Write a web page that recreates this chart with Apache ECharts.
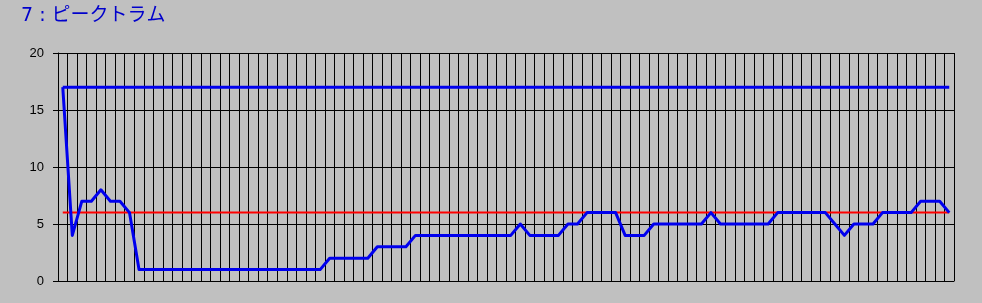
<!DOCTYPE html>
<html>
<head>
<meta charset="utf-8">
<script src="https://cdn.jsdelivr.net/npm/echarts@6/dist/echarts.min.js"></script>
<style>
html,body{margin:0;padding:0;background:#c0c0c0;}
#c{width:982px;height:303px;}
</style>
</head>
<body>
<div id="c"></div>
<script>
var titleText = '7 : ピークトラム';
var values = [17,4,7,7,8,7,7,6,
  1,1,1,1,1,1,1,1,1,1,1,1,1,1,1,1,1,1,1,1,
  2,2,2,2,2,
  3,3,3,3,
  4,4,4,4,4,4,4,4,4,4,4,
  5,
  4,4,4,4,
  5,5,
  6,6,6,6,
  4,4,4,
  5,5,5,5,5,5,
  6,
  5,5,5,5,5,5,
  6,6,6,6,6,6,
  5,4,
  5,5,5,
  6,6,6,6,
  7,7,7,
  6];
var maxValue = 17;
var refValue = 6;
var yMin = 0, yMax = 20, yStep = 5;

var categories = values.map(function(v, i){ return String(i + 1); });
var maxLine = values.map(function(){ return maxValue; });
var refLine = values.map(function(){ return refValue; });

var chart = echarts.init(document.getElementById('c'), null, {renderer:'canvas'});
chart.setOption({
  animation: false,
  backgroundColor: '#c0c0c0',
  title: {
    text: titleText,
    left: 16, top: 2,
    textStyle: {color:'#0000cc', fontSize:19, fontWeight:'normal', fontFamily:'"DejaVu Sans", "Noto Sans CJK JP", sans-serif'}
  },
  grid: {left:58, right:28, top:53, bottom:22},
  xAxis: {
    type:'category',
    data: categories,
    boundaryGap: true,
    axisLine: {show:true, lineStyle:{color:'#000', width:1}},
    axisTick: {show:false},
    axisLabel: {show:false},
    splitLine: {show:true, interval:0, lineStyle:{color:'#000', width:1}}
  },
  yAxis: {
    type:'value',
    min: yMin, max: yMax, interval: yStep,
    axisLine: {show:true, lineStyle:{color:'#000', width:1}},
    axisTick: {show:true, inside:false, length:5, lineStyle:{color:'#000'}},
    axisLabel: {color:'#000', fontSize:13, margin:14, fontFamily:'"Liberation Sans", Arial, sans-serif'},
    splitLine: {show:true, lineStyle:{color:'#000', width:1}}
  },
  series: [
    {type:'line', data: refLine, showSymbol:false, symbol:'none',
     lineStyle:{color:'#ff0000', width:2}, z:2},
    {type:'line', data: maxLine, showSymbol:false, symbol:'none',
     lineStyle:{color:'#0000ee', width:3}, z:3},
    {type:'line', data: values, showSymbol:false, symbol:'none',
     lineStyle:{color:'#0000ee', width:3, join:'round'}, z:3}
  ]
});
</script>
</body>
</html>
